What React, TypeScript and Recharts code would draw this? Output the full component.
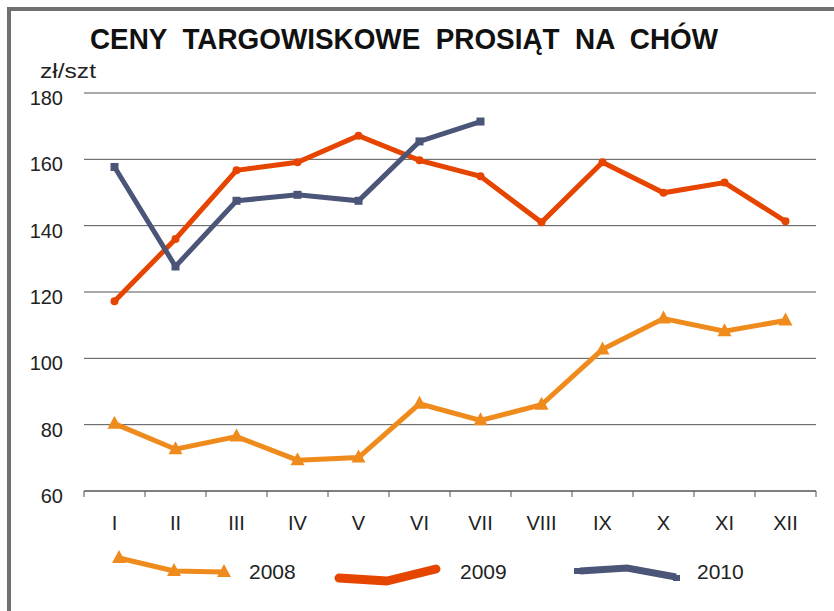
import React from 'react';
import { LineChart, Line, XAxis, YAxis, CartesianGrid } from 'recharts';

const months = ['I', 'II', 'III', 'IV', 'V', 'VI', 'VII', 'VIII', 'IX', 'X', 'XI', 'XII'];
const s2008 = [80.3, 72.6, 76.4, 69.3, 70.1, 86.3, 81.3, 86, 102.7, 112, 108.2, 111.4];
const s2009 = [117.2, 136, 156.7, 159.1, 167.1, 159.7, 154.9, 141, 159.1, 149.9, 153, 141.3];
const s2010 = [157.7, 127.7, 147.5, 149.3, 147.5, 165.4, 171.4];
const yTicks = [60, 80, 100, 120, 140, 160, 180];
const seriesNames = ['2008', '2009', '2010'];
const title = 'CENY  TARGOWISKOWE  PROSIĄT  NA  CHÓW';
const unit = 'zł/szt';

const C2008 = '#EF8B1C';
const C2009 = '#E64500';
const C2010 = '#4A5577';

const data = months.map((m, i) => ({
  idx: i + 1,
  label: m,
  y2008: s2008[i],
  y2009: s2009[i],
  y2010: i < s2010.length ? s2010[i] : null,
}));

const xTicks: number[] = [];
for (let i = 0; i <= months.length; i++) {
  xTicks.push(i + 0.5);
  if (i < months.length) xTicks.push(i + 1);
}

const FONT = '"Liberation Sans", Arial, sans-serif';

const XTick = (props: any) => {
  const { x, y, payload } = props;
  const v = payload.value as number;
  if (Number.isInteger(v)) {
    return (
      <text x={x} y={y} dy={39} textAnchor="middle" fill="#222" fontSize={20} fontFamily={FONT}>
        {months[v - 1]}
      </text>
    );
  }
  return <line x1={x} x2={x} y1={y} y2={y + 6} stroke="#555" strokeWidth={1} />;
};

const YTick = (props: any) => {
  const { x, y, payload } = props;
  return (
    <text x={x} y={y} dy={12} textAnchor="end" fill="#222" fontSize={20} fontFamily={FONT}>
      {payload.value}
    </text>
  );
};

const TriangleDot = (props: any) => {
  const { cx, cy } = props;
  if (cx == null || cy == null) return null;
  return <path d={`M${cx},${cy - 8} L${cx + 7},${cy + 5} L${cx - 7},${cy + 5} Z`} fill={C2008} />;
};

const CircleDot = (props: any) => {
  const { cx, cy } = props;
  if (cx == null || cy == null) return null;
  return <circle cx={cx} cy={cy} r={4} fill={C2009} />;
};

const SquareDot = (props: any) => {
  const { cx, cy } = props;
  if (cx == null || cy == null) return null;
  return <rect x={cx - 4} y={cy - 4} width={8} height={8} fill={C2010} />;
};

const LegendBlock = () => (
  <div style={{ position: 'absolute', left: 0, top: 540, width: 834, height: 60 }}>
    <svg width={834} height={60} style={{ position: 'absolute', left: 0, top: 0 }}>
      <polyline points="119,18 174,31 224,32" fill="none" stroke={C2008} strokeWidth={5} />
      <path d="M119,10 L126,23 L112,23 Z" fill={C2008} />
      <path d="M174,23 L181,36 L167,36 Z" fill={C2008} />
      <path d="M224,24 L231,37 L217,37 Z" fill={C2008} />
      <text x={249} y={39} fontSize={21} fill="#222" fontFamily={FONT}>{seriesNames[0]}</text>
      <polyline points="339,38 387,41 436,29" fill="none" stroke={C2009} strokeWidth={9} strokeLinecap="round" strokeLinejoin="round" />
      <text x={460} y={39} fontSize={21} fill="#222" fontFamily={FONT}>{seriesNames[1]}</text>
      <polyline points="580,31 627,28 676,37" fill="none" stroke={C2010} strokeWidth={7} />
      <rect x={574} y={28} width={7} height={6} fill={C2010} />
      <rect x={673} y={35} width={7} height={6} fill={C2010} />
      <text x={697} y={39} fontSize={21} fill="#222" fontFamily={FONT}>{seriesNames[2]}</text>
    </svg>
  </div>
);

export default function App() {
  return (
    <div style={{ position: 'absolute', left: 0, top: 0, width: 834, height: 611, overflow: 'hidden', background: '#fff' }}>
      <div
        style={{
          position: 'absolute',
          left: 7,
          top: 7,
          width: 900,
          height: 700,
          border: '4px solid #707070',
          boxSizing: 'border-box',
        }}
      />
      <svg width={834} height={90} style={{ position: 'absolute', left: 0, top: 0 }}>
        <text
          x={90}
          y={49}
          fontSize={30}
          fontWeight="bold"
          fill="#111"
          fontFamily={FONT}
          textLength={628}
          lengthAdjust="spacingAndGlyphs"
          style={{ whiteSpace: 'pre' }}
        >
          {title}
        </text>
        <text x={40} y={78} fontSize={21} fill="#222" fontFamily={FONT} textLength={56} lengthAdjust="spacingAndGlyphs">
          {unit}
        </text>
      </svg>
      <div style={{ position: 'absolute', left: 0, top: 0 }}>
        <LineChart width={834} height={611} data={data} margin={{ top: 93, right: 18, bottom: 80, left: 0 }}>
          <CartesianGrid horizontal vertical={false} stroke="#555" strokeWidth={1} />
          <XAxis
            dataKey="idx"
            type="number"
            domain={[0.5, 12.5]}
            ticks={xTicks}
            interval={0}
            height={40}
            tickLine={false}
            tickSize={0}
            tickMargin={0}
            axisLine={{ stroke: '#555' }}
            tick={<XTick />}
          />
          <YAxis
            domain={[60, 180]}
            ticks={yTicks}
            interval={0}
            width={84}
            axisLine={false}
            tickLine={false}
            tickSize={0}
            tickMargin={21}
            tick={<YTick />}
          />
          <Line dataKey="y2008" stroke={C2008} strokeWidth={5} dot={<TriangleDot />} activeDot={false} isAnimationActive={false} />
          <Line dataKey="y2009" stroke={C2009} strokeWidth={5} dot={<CircleDot />} activeDot={false} isAnimationActive={false} />
          <Line dataKey="y2010" stroke={C2010} strokeWidth={5} dot={<SquareDot />} activeDot={false} isAnimationActive={false} connectNulls={false} />
        </LineChart>
      </div>
      <LegendBlock />
    </div>
  );
}
